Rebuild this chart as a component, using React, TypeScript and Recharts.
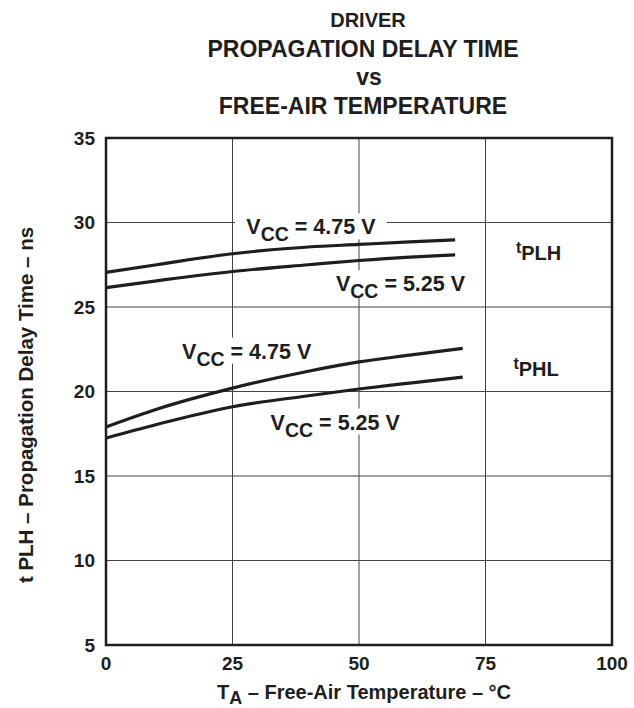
import {
  LineChart,
  Line,
  XAxis,
  YAxis,
  CartesianGrid,
  ReferenceArea,
  ReferenceDot,
} from "recharts";

const FONT = '"Liberation Sans", Arial, Helvetica, sans-serif';
const INK = "#1e1e1e";

// free-air temperature (°C) where the curves were read
const tempPLH = [0, 10, 25, 40, 50, 60, 69];
const tempPHL = [0, 10, 25, 40, 50, 60, 70.5];

// propagation delay (ns)
const plhVcc475 = [27.05, 27.5, 28.15, 28.55, 28.7, 28.85, 28.97];
const plhVcc525 = [26.15, 26.55, 27.1, 27.5, 27.75, 27.95, 28.08];
const phlVcc475 = [17.9, 18.95, 20.2, 21.2, 21.75, 22.15, 22.55];
const phlVcc525 = [17.25, 18.05, 19.1, 19.75, 20.15, 20.5, 20.85];

const xTicks = [0, 25, 50, 75, 100];
const yTicks = [5, 10, 15, 20, 25, 30, 35];

const toRows = (xs: number[], ys: number[]) => xs.map((t, i) => ({ t, v: ys[i] }));

const vccLabel = (value: string) => (props: any) => {
  const { cx, cy } = props;
  return (
    <g>
      <rect x={cx - 76} y={cy - 21} width={152} height={26} fill="#fff" />
      <text x={cx} y={cy} textAnchor="middle" fontFamily={FONT} fontWeight="bold" fontSize={21.5} fill={INK}>
        <tspan>V</tspan>
        <tspan dy={7} fontSize={19.5}>CC</tspan>
        <tspan dy={-7}>{` = ${value} V`}</tspan>
      </text>
    </g>
  );
};

const tLabel = (sub: string) => (props: any) => {
  const { cx, cy } = props;
  return (
    <text x={cx} y={cy} textAnchor="middle" fontFamily={FONT} fontWeight="bold" fill={INK}>
      <tspan fontSize={16} dy={-7}>t</tspan>
      <tspan fontSize={20} dy={7}>{sub}</tspan>
    </text>
  );
};

const tickStyle = { fontSize: 19, fontWeight: "bold", fill: INK, fontFamily: FONT };

export default function App() {
  return (
    <div style={{ position: "absolute", left: 0, top: 0, width: 634, height: 708, background: "#fff" }}>
      <LineChart width={634} height={708} margin={{ top: 138, right: 22, bottom: 23, left: 46 }}>
        <CartesianGrid stroke="#444" strokeWidth={1} />
        <XAxis
          dataKey="t"
          type="number"
          domain={[0, 100]}
          ticks={xTicks}
          axisLine={false}
          tickLine={false}
          tickSize={0}
          tickMargin={12}
          height={40}
          tick={tickStyle}
          interval={0}
        />
        <YAxis
          type="number"
          domain={[5, 35]}
          ticks={yTicks}
          axisLine={false}
          tickLine={false}
          tickSize={0}
          tickMargin={11}
          width={60}
          tick={tickStyle}
          interval={0}
        />
        <ReferenceArea x1={0} x2={100} y1={5} y2={35} fill="none" stroke={INK} strokeWidth={2.5} />
        <Line data={toRows(tempPLH, plhVcc475)} dataKey="v" type="monotone" stroke={INK} strokeWidth={3.2} dot={false} isAnimationActive={false} />
        <Line data={toRows(tempPLH, plhVcc525)} dataKey="v" type="monotone" stroke={INK} strokeWidth={3.2} dot={false} isAnimationActive={false} />
        <Line data={toRows(tempPHL, phlVcc475)} dataKey="v" type="monotone" stroke={INK} strokeWidth={3.2} dot={false} isAnimationActive={false} />
        <Line data={toRows(tempPHL, phlVcc525)} dataKey="v" type="monotone" stroke={INK} strokeWidth={3.2} dot={false} isAnimationActive={false} />
        <ReferenceDot x={40.5} y={29.3} r={1} shape={vccLabel("4.75")} />
        <ReferenceDot x={58.2} y={25.93} r={1} shape={vccLabel("5.25")} />
        <ReferenceDot x={27.8} y={21.95} r={1} shape={vccLabel("4.75")} />
        <ReferenceDot x={45.3} y={17.75} r={1} shape={vccLabel("5.25")} />
        <ReferenceDot x={85.5} y={27.81} r={1} shape={tLabel("PLH")} />
        <ReferenceDot x={85} y={20.89} r={1} shape={tLabel("PHL")} />
      </LineChart>
      <svg width={634} height={708} style={{ position: "absolute", left: 0, top: 0, pointerEvents: "none" }}>
        <g fontFamily={FONT} fontWeight="bold" fill={INK} textAnchor="middle">
          <text x={368} y={26.5} fontSize={20}>DRIVER</text>
          <text x={363} y={56.5} fontSize={23}>PROPAGATION DELAY TIME</text>
          <text x={369} y={85} fontSize={23}>vs</text>
          <text x={363} y={114} fontSize={23}>FREE-AIR TEMPERATURE</text>
          <text x={364} y={699} fontSize={20}>
            <tspan>T</tspan>
            <tspan dy={5} fontSize={18}>A</tspan>
            <tspan dy={-5}>{" – Free-Air Temperature – °C"}</tspan>
          </text>
          <text x={33} y={405} fontSize={20.5} transform="rotate(-90 33 405)">
            t PLH – Propagation Delay Time – ns
          </text>
        </g>
      </svg>
    </div>
  );
}
